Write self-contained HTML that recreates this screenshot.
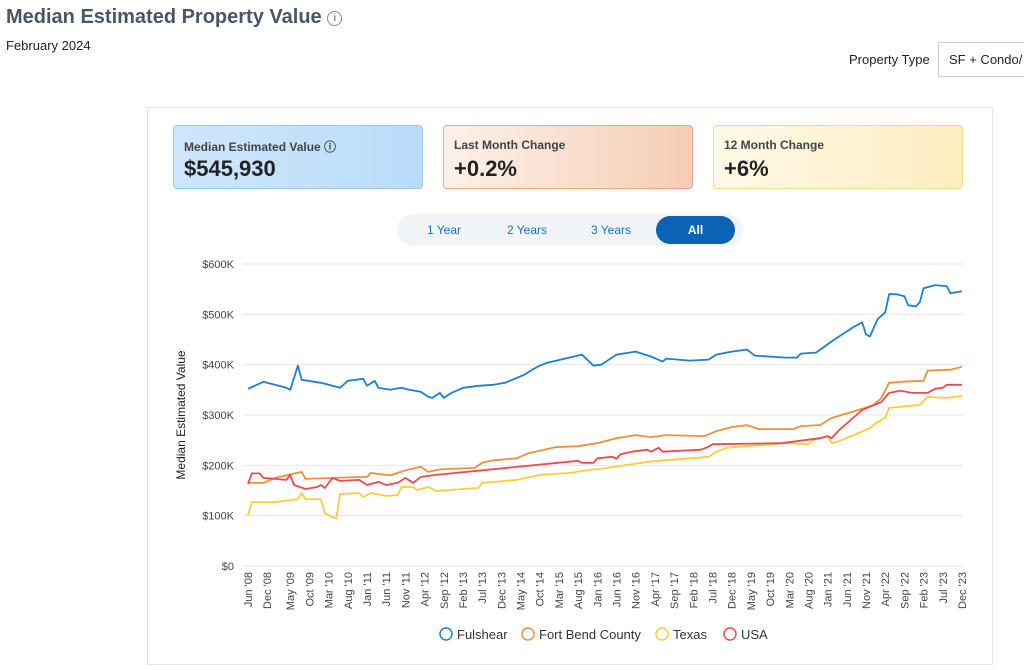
<!DOCTYPE html>
<html><head><meta charset="utf-8"><style>
body{margin:0;width:1024px;height:670px;background:#fff;font-family:"Liberation Sans",sans-serif;position:relative;overflow:hidden;color:#333}
.abs{position:absolute}
.card{position:absolute;top:125px;width:250px;height:64px;border-radius:4px;box-sizing:border-box}
.card .l{position:absolute;left:10px;top:12px;font-size:12px;font-weight:bold;color:#444}
.card .v{position:absolute;left:10px;top:30px;font-size:22px;font-weight:bold;color:#222}
.tab{position:absolute;top:216px;height:28px;line-height:28px;font-size:12px;color:#1a6fc0;text-align:center;width:80px}
</style></head><body>
<div class="abs" style="left:6px;top:6px;font-size:20px;font-weight:bold;color:#4a5566">Median Estimated Property Value <span style="display:inline-block;width:13px;height:13px;border:1.5px solid #888;border-radius:50%;font-size:10px;line-height:13px;text-align:center;color:#888;vertical-align:2px">i</span></div>
<div class="abs" style="left:6px;top:38px;font-size:13px;color:#222">February 2024</div>
<div class="abs" style="left:849px;top:52px;font-size:13px;color:#222">Property Type</div>
<div class="abs" style="left:938px;top:42px;width:100px;height:35px;border:1px solid #ccc;box-sizing:border-box;font-size:13px;line-height:33px;padding-left:10px;color:#222">SF + Condo/</div>
<div class="abs" style="left:147px;top:107px;width:846px;height:558px;border:1px solid #e4e4e4;box-sizing:border-box"></div>
<div class="card" style="left:173px;background:linear-gradient(90deg,#cfe6fb,#b9dcfa);border:1px solid #9ccaf0"><div class="l">Median Estimated Value ⓘ</div><div class="v">$545,930</div></div>
<div class="card" style="left:443px;background:linear-gradient(90deg,#fdf1ea,#f6cdb5);border:1px solid #e9a887"><div class="l">Last Month Change</div><div class="v">+0.2%</div></div>
<div class="card" style="left:713px;background:linear-gradient(90deg,#fff9e8,#fdedc0);border:1px solid #f3d88a"><div class="l">12 Month Change</div><div class="v">+6%</div></div>
<div class="abs" style="left:397px;top:214px;width:346px;height:32px;border-radius:16px;background:#f2f5f8"></div>
<div class="tab" style="left:404px">1 Year</div>
<div class="tab" style="left:487px">2 Years</div>
<div class="tab" style="left:571px">3 Years</div>
<div class="tab" style="left:656px;width:79px;background:#0b63b5;color:#fff;border-radius:14px;font-weight:bold">All</div>
<svg class="abs" style="left:0;top:0" width="1024" height="670" id="chart"></svg>
<script>
const yTicks=[0,100,200,300,400,500,600];
const xLabels=["Jun '08","Dec '08","May '09","Oct '09","Mar '10","Aug '10","Jan '11","Jun '11","Nov '11","Apr '12","Sep '12","Feb '13","Jul '13","Dec '13","May '14","Oct '14","Mar '15","Aug '15","Jan '16","Jun '16","Nov '16","Apr '17","Sep '17","Feb '18","Jul '18","Dec '18","May '19","Oct '19","Mar '20","Aug '20","Jan '21","Jun '21","Nov '21","Apr '22","Sep '22","Feb '23","Jul '23","Dec '23"];
const xLabelMonths=[0,5,11,16,21,26,31,36,41,46,51,56,61,66,71,76,81,86,91,96,101,106,111,116,121,126,131,136,141,146,151,156,161,166,171,176,181,186];
const fulM=[0,4,7,10,11,13,14,19,24,26,30,31,33,34,37,40,42,45,47,48,50,51,53,56,60,64,67,72,74,76,78,87,90,92,96,101,105,108,109,115,120,122,126,130,132,136,140,143,144,148,152,156,158,160,161,162,164,166,167,169,171,172,174,175,176,179,182,183,186];
const fulV=[352,366,360,354,350,398,370,364,354,368,372,358,368,354,350,354,350,346,336,334,344,334,344,354,358,360,364,380,390,398,404,420,398,400,420,426,416,406,412,408,410,420,426,430,418,416,414,414,422,424,446,466,476,484,460,456,490,504,540,540,536,518,516,524,552,558,556,542,546];
const fbM=[0,4,7,14,15,30,31,32,37,41,45,47,50,59,61,64,70,73,80,86,91,96,101,105,109,119,122,126,130,133,142,144,149,152,159,163,165,167,170,176,177,183,186];
const fbV=[165,165,175,187,173,177,177,185,180,190,197,187,192,195,205,210,214,224,236,238,244,254,260,256,260,258,268,276,280,272,272,278,280,294,310,320,334,364,366,368,388,390,396];
const txM=[0,1,7,13,14,15,19,20,22,23,24,29,30,32,36,39,40,43,44,47,49,52,60,61,70,76,84,89,92,104,120,122,125,128,140,146,147,151,152,154,159,162,164,166,167,170,175,177,182,186];
const txV=[101,127,127,133,145,133,133,105,97,95,143,145,137,145,139,141,157,157,151,157,149,151,155,165,171,181,185,191,193,207,217,227,235,237,244,242,250,258,244,248,264,274,286,294,314,316,320,336,334,338];
const usM=[0,1,3,4,10,11,12,15,18,19,20,22,24,29,31,34,36,39,41,43,45,49,86,87,90,91,95,96,97,100,104,105,107,108,118,120,121,139,143,149,151,152,154,157,160,165,167,170,173,177,179,181,182,186];
const usV=[163,184,184,175,171,181,161,153,157,161,155,175,169,171,161,167,161,165,175,165,177,181,209,205,205,214,217,213,222,227,231,227,235,227,231,237,242,244,248,254,258,254,270,290,310,326,344,348,344,344,352,354,360,360];
const svg=document.getElementById('chart');
const NS='http://www.w3.org/2000/svg';
const X=m=>248+m*(714/186);
const Y=v=>566-v*(302/600);
function el(t,a,txt){const e=document.createElementNS(NS,t);for(const k in a)e.setAttribute(k,a[k]);if(txt!=null)e.textContent=txt;svg.appendChild(e);return e;}
yTicks.forEach(t=>{
 const g=el('line',{x1:243,x2:963,y1:Y(t),y2:Y(t),stroke:'#e6e6e6','stroke-width':1});
 
 
 const l=el('text',{x:234,y:Y(t)+4,'text-anchor':'end','font-size':11,fill:'#444','font-family':'Liberation Sans'},'$'+(t?t+'K':0));
 
 
});
xLabels.forEach((s,i)=>{
 const x=X(xLabelMonths[i]);
 const t=el('text',{x:0,y:0,transform:`translate(${x+4},572) rotate(-90)`,'text-anchor':'end','font-size':11,fill:'#444','font-family':'Liberation Sans'},s);
 
 
});
const yt=el('text',{x:0,y:0,transform:'translate(185,415) rotate(-90)','text-anchor':'middle','font-size':12,fill:'#222','font-family':'Liberation Sans'},'Median Estimated Value');


const series=[[fbM,fbV,'#f0913a','fort-bend-line'],[txM,txV,'#fdcc3a','texas-line'],[usM,usV,'#ec4a4f','usa-line'],[fulM,fulV,'#1c7fd0','fulshear-line']];
series.forEach(([ms,vs,c,n])=>{
 const p=el('polyline',{points:ms.map((m,i)=>X(m).toFixed(1)+','+Y(vs[i]).toFixed(1)).join(' '),fill:'none',stroke:c,'stroke-width':1.8,'stroke-linejoin':'round'});
 
 
});
const leg=[['Fulshear','#1c7fd0',440],['Fort Bend County','#f0913a',522],['Texas','#fdcc3a',656],['USA','#ec4a4f',724]];
leg.forEach(([s,c,x])=>{
 const ci=el('circle',{cx:x+6,cy:634,r:6,fill:'none',stroke:c,'stroke-width':1.5});
 
 
 const t=el('text',{x:x+17,y:639,'font-size':13,fill:'#333','font-family':'Liberation Sans'},s);
 
 
});
</script>
</body></html>
